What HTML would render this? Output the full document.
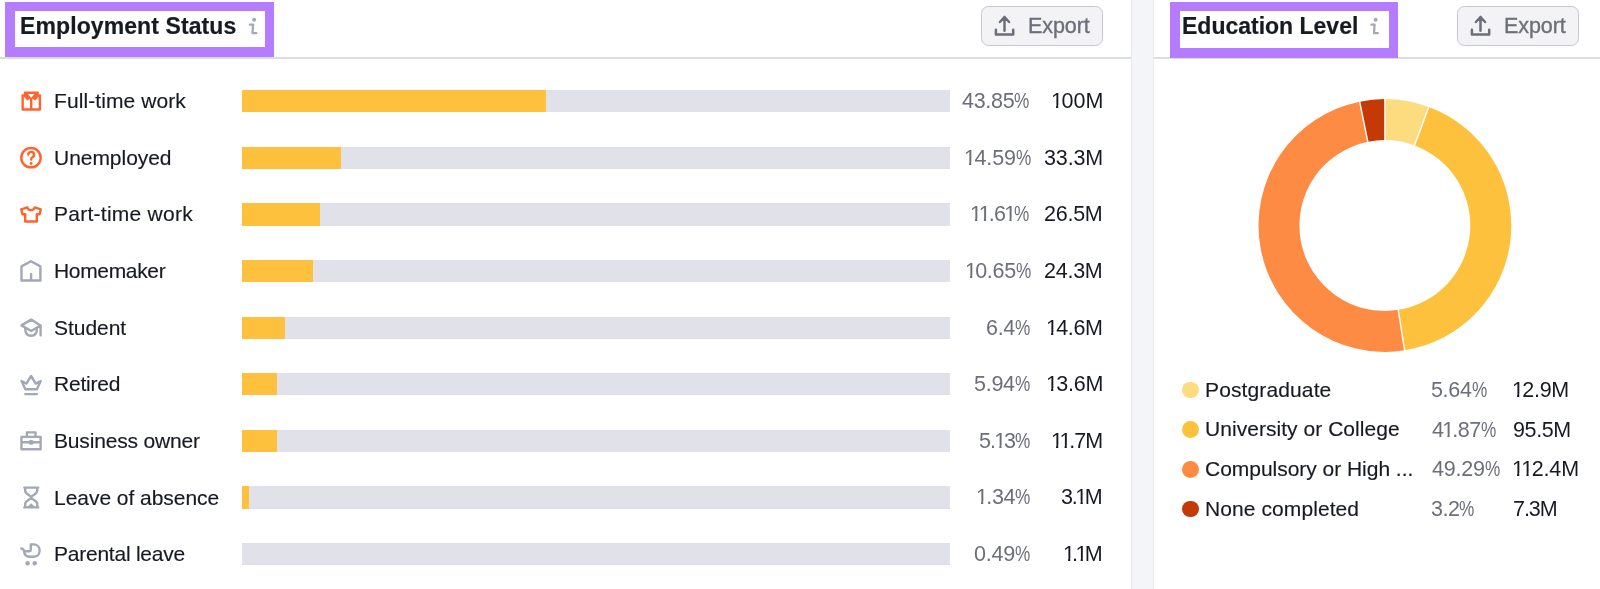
<!DOCTYPE html>
<html><head><meta charset="utf-8"><title>Employment Status / Education Level</title>
<style>
*{box-sizing:border-box;margin:0;padding:0}
html,body{width:1600px;height:589px;overflow:hidden}
body{background:#f4f5f8;position:relative;font-family:"Liberation Sans",sans-serif;color:#171a22}
.card{position:absolute;background:#fff;border:1px solid #e8e9ef;border-radius:6px}
.hl{position:absolute;border:solid #b67cff;border-width:9px 9px 10px 10px}
.rule{position:absolute;height:1.6px;background:#dcdde4}
.t{position:absolute;white-space:nowrap;line-height:1;will-change:transform}
.h{font-weight:bold;font-size:23px;color:#171a22;-webkit-text-stroke:0.2px #171a22}
.lab{font-size:21px;color:#171a22;-webkit-text-stroke:0.15px #171a22}
.pct{font-size:21.5px;color:#6c6e79}
.val{font-size:21.5px;color:#171a22}
.btn{position:absolute;background:#f3f3f6;border:1.5px solid #c6c8d1;border-radius:7.5px}
.bt{font-size:21.5px;color:#6c6e79;-webkit-text-stroke:0.35px #6c6e79}
.track{position:absolute;left:242.2px;width:707.8px;height:22.3px;background:#e0e1e9}
.fill{position:absolute;left:0;top:0;height:100%;background:#fdc13d}
svg{position:absolute;left:0;top:0}
.one{display:inline-block;margin-left:-0.052em;margin-right:-0.062em;clip-path:polygon(0 0,0.6em 0,0.6em 0.66em,0.343em 0.66em,0.343em 1.2em,0.24em 1.2em,0.24em 0.66em,0 0.66em)}
</style></head><body>
<div class="card" style="left:-20px;top:-5px;width:1152px;height:620px"></div>
<div class="card" style="left:1153px;top:-5px;width:470px;height:620px"></div>
<div class="rule" style="left:0;top:57px;width:1131px"></div>
<div class="rule" style="left:1154px;top:57px;width:446px"></div>

<div class="t h" style="left:19.7px;top:15.4px;letter-spacing:0.1px">Employment Status</div>
<div class="t h" style="left:1182.2px;top:15.4px;letter-spacing:-0.004px">Education Level</div>
<div class="btn" style="left:981px;top:6.3px;width:122px;height:39.6px"></div>
<div class="btn" style="left:1457px;top:6.3px;width:122px;height:39.6px"></div>
<div class="t bt" style="left:1027.6px;top:15.7px;letter-spacing:-0.09px">Export</div>
<div class="t bt" style="left:1503.6px;top:15.7px;letter-spacing:-0.09px">Export</div>
<div class="t lab" style="left:54.05px;top:90.2px;letter-spacing:0.092px">Full-time work</div>
<div class="track" style="top:90.00px"><div class="fill" style="width:304.2px"></div></div>
<div class="t pct" style="left:962.3px;top:91px;letter-spacing:-0.27px">43.85<span style="display:inline-block;transform:scaleX(0.8);transform-origin:0 0">%</span></div>
<div class="t val" style="left:1051.7px;top:91px;letter-spacing:0.0px"><span class="one">1</span>00M</div>
<div class="t lab" style="left:53.6px;top:146.82px;letter-spacing:-0.039px">Unemployed</div>
<div class="track" style="top:146.62px"><div class="fill" style="width:99.2px"></div></div>
<div class="t pct" style="left:964.5px;top:148px;letter-spacing:-0.11px"><span class="one">1</span>4.59<span style="display:inline-block;transform:scaleX(0.8);transform-origin:0 0">%</span></div>
<div class="t val" style="left:1043.75px;top:148px;letter-spacing:-0.137px">33.3M</div>
<div class="t lab" style="left:53.75px;top:203.45px;letter-spacing:0.258px">Part-time work</div>
<div class="track" style="top:203.25px"><div class="fill" style="width:78.0px"></div></div>
<div class="t pct" style="left:971.3px;top:204px;letter-spacing:-0.67px"><span class="one">1</span><span class="one">1</span>.6<span class="one">1</span><span style="display:inline-block;transform:scaleX(0.8);transform-origin:0 0">%</span></div>
<div class="t val" style="left:1044.2px;top:204px;letter-spacing:-0.25px">26.5M</div>
<div class="t lab" style="left:53.85px;top:260.08px;letter-spacing:-0.331px">Homemaker</div>
<div class="track" style="top:259.88px"><div class="fill" style="width:70.7px"></div></div>
<div class="t pct" style="left:965.5px;top:261px;letter-spacing:-0.31px"><span class="one">1</span>0.65<span style="display:inline-block;transform:scaleX(0.8);transform-origin:0 0">%</span></div>
<div class="t val" style="left:1044.2px;top:261px;letter-spacing:-0.25px">24.3M</div>
<div class="t lab" style="left:54.3px;top:316.7px;letter-spacing:-0.042px">Student</div>
<div class="track" style="top:316.50px"><div class="fill" style="width:42.4px"></div></div>
<div class="t pct" style="left:985.9px;top:318px;letter-spacing:-0.317px">6.4<span style="display:inline-block;transform:scaleX(0.8);transform-origin:0 0">%</span></div>
<div class="t val" style="left:1047.0px;top:318px;letter-spacing:-0.325px"><span class="one">1</span>4.6M</div>
<div class="t lab" style="left:53.55px;top:373.33px;letter-spacing:-0.208px">Retired</div>
<div class="track" style="top:373.12px"><div class="fill" style="width:35.2px"></div></div>
<div class="t pct" style="left:974.0px;top:374px;letter-spacing:-0.262px">5.94<span style="display:inline-block;transform:scaleX(0.8);transform-origin:0 0">%</span></div>
<div class="t val" style="left:1046.5px;top:374px;letter-spacing:-0.2px"><span class="one">1</span>3.6M</div>
<div class="t lab" style="left:53.55px;top:429.95px;letter-spacing:-0.165px">Business owner</div>
<div class="track" style="top:429.75px"><div class="fill" style="width:35.2px"></div></div>
<div class="t pct" style="left:979.3px;top:431px;letter-spacing:-0.837px">5.<span class="one">1</span>3<span style="display:inline-block;transform:scaleX(0.8);transform-origin:0 0">%</span></div>
<div class="t val" style="left:1051.8px;top:431px;letter-spacing:-0.962px"><span class="one">1</span><span class="one">1</span>.7M</div>
<div class="t lab" style="left:53.55px;top:486.58px;letter-spacing:-0.037px">Leave of absence</div>
<div class="track" style="top:486.38px"><div class="fill" style="width:7.0px"></div></div>
<div class="t pct" style="left:977.2px;top:487px;letter-spacing:-0.312px"><span class="one">1</span>.34<span style="display:inline-block;transform:scaleX(0.8);transform-origin:0 0">%</span></div>
<div class="t val" style="left:1061.15px;top:487px;letter-spacing:-1.233px">3.<span class="one">1</span>M</div>
<div class="t lab" style="left:53.95px;top:543.2px;letter-spacing:-0.235px">Parental leave</div>
<div class="track" style="top:543.00px"><div class="fill" style="width:0.0px"></div></div>
<div class="t pct" style="left:973.65px;top:544px;letter-spacing:-0.175px">0.49<span style="display:inline-block;transform:scaleX(0.8);transform-origin:0 0">%</span></div>
<div class="t val" style="left:1064.3px;top:544px;letter-spacing:-1.45px"><span class="one">1</span>.<span class="one">1</span>M</div>
<div style="position:absolute;left:1182.3px;top:381.55px;width:16.8px;height:16.8px;border-radius:50%;background:#fddc7f"></div>
<div class="t lab" style="left:1204.65px;top:378.6px;letter-spacing:0.123px">Postgraduate</div>
<div class="t pct" style="left:1431.1px;top:380px;letter-spacing:-0.337px">5.64<span style="display:inline-block;transform:scaleX(0.8);transform-origin:0 0">%</span></div>
<div class="t val" style="left:1512.8px;top:380px;letter-spacing:-0.275px"><span class="one">1</span>2.9M</div>
<div style="position:absolute;left:1182.3px;top:421.23px;width:16.8px;height:16.8px;border-radius:50%;background:#fdc13e"></div>
<div class="t lab" style="left:1204.8px;top:418.28px;letter-spacing:0.045px">University or College</div>
<div class="t pct" style="left:1431.6px;top:420px;letter-spacing:-0.57px">4<span class="one">1</span>.87<span style="display:inline-block;transform:scaleX(0.8);transform-origin:0 0">%</span></div>
<div class="t val" style="left:1512.9px;top:420px;letter-spacing:-0.375px">95.5M</div>
<div style="position:absolute;left:1182.3px;top:460.91px;width:16.8px;height:16.8px;border-radius:50%;background:#fe8b43"></div>
<div class="t lab" style="left:1205.3px;top:457.96px;letter-spacing:-0.029px">Compulsory or High ...</div>
<div class="t pct" style="left:1431.6px;top:459px;letter-spacing:-0.23px">49.29<span style="display:inline-block;transform:scaleX(0.8);transform-origin:0 0">%</span></div>
<div class="t val" style="left:1513.4px;top:459px;letter-spacing:-0.16px"><span class="one">1</span><span class="one">1</span>2.4M</div>
<div style="position:absolute;left:1182.3px;top:500.59px;width:16.8px;height:16.8px;border-radius:50%;background:#c43a06"></div>
<div class="t lab" style="left:1205.15px;top:497.64px;letter-spacing:0.085px">None completed</div>
<div class="t pct" style="left:1431.35px;top:499px;letter-spacing:-0.5px">3.2<span style="display:inline-block;transform:scaleX(0.8);transform-origin:0 0">%</span></div>
<div class="t val" style="left:1512.9px;top:499px;letter-spacing:-1.067px">7.3M</div>
<div class="hl" style="left:5px;top:2px;width:269.3px;height:54.7px"></div>
<div class="hl" style="left:1170px;top:2px;width:228.2px;height:55.5px"></div>
<svg width="1600" height="589" viewBox="0 0 1600 589">
<path d="M24.2,95.4 H22.65 V109.5 H39.9 V95.4 H38.4" fill="none" stroke="#ff642d" stroke-width="2.4" stroke-linejoin="round" stroke-linecap="round"/>
<path d="M24.3,91.5 H38.4 Q38.8,91.5 38.8,92 V96.5 L35.2,100.6 L31.2,97.9 L27.2,100.6 L23.9,96.5 V92 Q23.9,91.5 24.3,91.5 Z M28.1,93.9 L31.2,97.9 L34.3,93.9 Z" fill="#ff642d" fill-rule="evenodd"/>
<path d="M31.2,98.6 V109" fill="none" stroke="#ff642d" stroke-width="2.4" stroke-linejoin="round" stroke-linecap="round"/>
<circle cx="30.95" cy="157.7" r="9.7" fill="none" stroke="#ff642d" stroke-width="2.4" stroke-linejoin="round" stroke-linecap="round"/>
<path d="M28.3,154.6 A2.85,2.85 0 1 1 32.4,157.2 Q31.1,158 31.1,159.6" fill="none" stroke="#ff642d" stroke-width="2.4" stroke-linejoin="round" stroke-linecap="round"/>
<circle cx="31.1" cy="163.5" r="1.45" fill="#ff642d"/>
<path d="M27.3,207.4 C27.9,211 34.1,211 34.7,207.4 L40.8,209.3 L39.6,214.3 L36.8,214.3 L36.8,221.5 L25.2,221.5 L25.2,214.3 L22.4,214.3 L21.2,209.3 Z" fill="none" stroke="#ff642d" stroke-width="2.4" stroke-linejoin="round" stroke-linecap="round"/>
<path d="M21.5,280.5 V266.4 L31,261.2 L40.4,266.4 V280.5 Z M31.1,273.9 V280.5" fill="none" stroke="#a4a7b5" stroke-width="2.4" stroke-linejoin="round" stroke-linecap="round"/>
<path d="M21.5,325.4 L31.2,319.6 L40.6,325.4 L31.2,331 Z M40.6,325.4 V335.3 M25.2,328.2 C25.2,333.8 27.6,335.8 31.1,335.8 C34.6,335.8 37,333.8 37,328.2" fill="none" stroke="#a4a7b5" stroke-width="2.4" stroke-linejoin="round" stroke-linecap="round"/>
<path d="M21.5,381 L25.3,389.2 H36.9 L40.7,381 L35.8,383.6 L31.1,376 L26.4,383.6 Z" fill="none" stroke="#a4a7b5" stroke-width="2.4" stroke-linejoin="round" stroke-linecap="round"/>
<rect x="24.3" y="393.1" width="13.6" height="2.1" rx="0.6" fill="#a4a7b5"/>
<path d="M21.45,436.9 H40.6 V449.3 H21.45 Z M26.9,436.9 V432.4 H35.5 V436.9 M21.45,442.2 H40.6" fill="none" stroke="#a4a7b5" stroke-width="2.4" stroke-linejoin="round" stroke-linecap="round"/>
<rect x="28.6" y="440" width="5.1" height="4.7" rx="1.8" fill="#a4a7b5"/>
<path d="M24.3,487.6 H38.2 M24.3,507.4 H38.2 M25.2,487.6 V491 C25.2,494 31.2,495.5 31.2,497.4 C31.2,499.3 25.2,500.8 25.2,503.8 V507.4 M37.2,487.6 V491 C37.2,494 31.2,495.5 31.2,497.4 C31.2,499.3 37.2,500.8 37.2,503.8 V507.4" fill="none" stroke="#a4a7b5" stroke-width="2.4" stroke-linejoin="round" stroke-linecap="round"/>
<path d="M27.3,507 L31.2,503.2 L35.1,507 Z" fill="#a4a7b5"/>
<path d="M21.3,548.5 C22.9,548.5 23.6,549.4 24.2,551.3 H29 Q30.8,551.3 30.8,549.5 V544.4 H33.5 C37.3,544.4 39.6,547.3 39.6,550.4 C39.6,554.3 36.8,556.8 33.3,556.8 H29.8 C26.4,556.8 24.2,554.7 24.2,551.3" fill="none" stroke="#a4a7b5" stroke-width="2.4" stroke-linejoin="round" stroke-linecap="round"/>
<circle cx="27.6" cy="563.2" r="2.2" fill="#a4a7b5"/><circle cx="34.7" cy="563.2" r="2.2" fill="#a4a7b5"/>
<circle cx="254.1" cy="19.7" r="2.0" fill="#a4a7b5"/><path d="M249.8,24.6 H253.1 L252.5,33.1 H256.4" fill="none" stroke="#a4a7b5" stroke-width="2.2" stroke-linecap="round" stroke-linejoin="round"/>
<circle cx="1375.6" cy="19.7" r="2.0" fill="#a4a7b5"/><path d="M1371.3,24.6 H1374.6 L1374.0,33.1 H1377.9" fill="none" stroke="#a4a7b5" stroke-width="2.2" stroke-linecap="round" stroke-linejoin="round"/>
<path d="M1004.5,30.8 V17 M999.9,22 L1004.5,17 L1009.1,22 M995.9,29.8 V34.6 H1013.2 V29.8" fill="none" stroke="#6c6e79" stroke-width="2.5" stroke-linecap="round" stroke-linejoin="round"/>
<path d="M1480.5,30.8 V17 M1475.9,22 L1480.5,17 L1485.1,22 M1471.9,29.8 V34.6 H1489.2 V29.8" fill="none" stroke="#6c6e79" stroke-width="2.5" stroke-linecap="round" stroke-linejoin="round"/>
<path d="M1384.90,99.10 A126.4,126.4 0 0 1 1428.76,106.95 L1414.53,145.41 A85.4,85.4 0 0 0 1384.90,140.10 Z" fill="#fddc7f"/>
<path d="M1428.76,106.95 A126.4,126.4 0 0 1 1404.59,350.36 L1398.21,309.86 A85.4,85.4 0 0 0 1414.53,145.41 Z" fill="#fdc13e"/>
<path d="M1404.59,350.36 A126.4,126.4 0 0 1 1359.66,101.65 L1367.84,141.82 A85.4,85.4 0 0 0 1398.21,309.86 Z" fill="#fe8b43"/>
<path d="M1359.66,101.65 A126.4,126.4 0 0 1 1384.90,99.10 L1384.90,140.10 A85.4,85.4 0 0 0 1367.84,141.82 Z" fill="#c43a06"/>
<line x1="1384.90" y1="141.10" x2="1384.90" y2="98.10" stroke="#fff" stroke-width="1.4"/>
<line x1="1414.19" y1="146.34" x2="1429.11" y2="106.02" stroke="#fff" stroke-width="1.4"/>
<line x1="1398.05" y1="308.87" x2="1404.75" y2="351.34" stroke="#fff" stroke-width="1.4"/>
<line x1="1368.04" y1="142.80" x2="1359.46" y2="100.67" stroke="#fff" stroke-width="1.4"/>
</svg>
</body></html>
